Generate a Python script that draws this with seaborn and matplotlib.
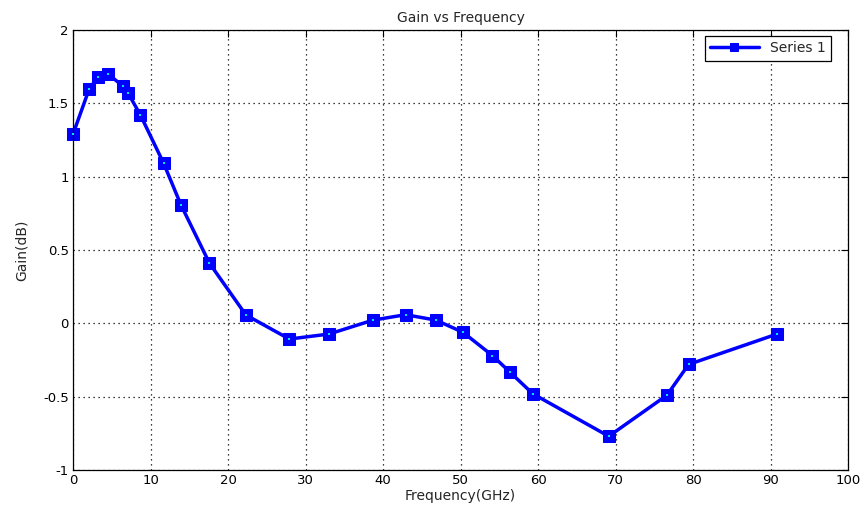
import matplotlib
matplotlib.use("Agg")
import matplotlib.pyplot as plt
import seaborn as sns
import pandas as pd

freq = [0.0, 2.1, 3.25, 4.5, 6.4, 7.1, 8.7, 11.7, 13.9, 17.6, 22.3, 27.9, 33.0,
        38.7, 42.9, 46.8, 50.3, 54.1, 56.3, 59.3, 69.1, 76.6, 79.4, 90.8]
gain = [1.29, 1.60, 1.68, 1.70, 1.62, 1.57, 1.42, 1.09, 0.81, 0.41, 0.057, -0.107,
        -0.073, 0.022, 0.059, 0.022, -0.061, -0.22, -0.33, -0.48, -0.77, -0.49,
        -0.28, -0.073]
xticks = [0, 10, 20, 30, 40, 50, 60, 70, 80, 90, 100]
yticks = [-1, -0.5, 0, 0.5, 1, 1.5, 2]
ytick_labels = ["-1", "-0.5", "0", "0.5", "1", "1.5", "2"]

sns.set_style("white")
plt.rcParams["font.family"] = ["DejaVu Sans"]

df = pd.DataFrame({"Frequency": freq, "Gain": gain, "series": "Series 1"})

fig = plt.figure(figsize=(8.61, 5.09), dpi=100)
ax = fig.add_axes([0.0848, 0.0766, 0.9005, 0.8644])

sns.lineplot(data=df, x="Frequency", y="Gain", hue="series", palette=["#0000ff"],
             sort=False, marker="s", markersize=8, markerfacecolor="#0000ff",
             markeredgecolor="#0000ff", linewidth=2.5, ax=ax, legend=True,
             clip_on=False)
ax.scatter(df["Frequency"], df["Gain"], s=3, color="#00e5ff", marker="s", zorder=5,
           linewidths=0, clip_on=False)

ax.set_xlim(0, 100)
ax.set_ylim(-1, 2)
ax.set_xticks(xticks)
ax.set_xticklabels([str(t) for t in xticks])
ax.set_yticks(yticks)
ax.set_yticklabels(ytick_labels)
ax.tick_params(direction="in", top=True, right=True, labelsize=9.5, length=5,
               width=0.8, colors="black", pad=3)
for s in ax.spines.values():
    s.set_visible(True)
    s.set_color("black")
    s.set_linewidth(0.9)
ax.grid(True, color="black", linestyle=(0, (1, 3)), linewidth=0.9)
ax.set_axisbelow(True)

ax.set_xlabel("Frequency(GHz)", fontsize=10, labelpad=1)
ax.set_ylabel("Gain(dB)", fontsize=10, labelpad=10)
ax.set_title("Gain vs Frequency", fontsize=10, pad=6)

leg = ax.legend(loc="upper right", fontsize=10, frameon=True, fancybox=False,
                edgecolor="black", framealpha=1, borderaxespad=0.4,
                bbox_to_anchor=(0.985, 1.0), handlelength=3.5, markerscale=0.75,
                borderpad=0.4)
leg.get_frame().set_linewidth(0.9)

fig.savefig("out.png", dpi=100, facecolor="white")
